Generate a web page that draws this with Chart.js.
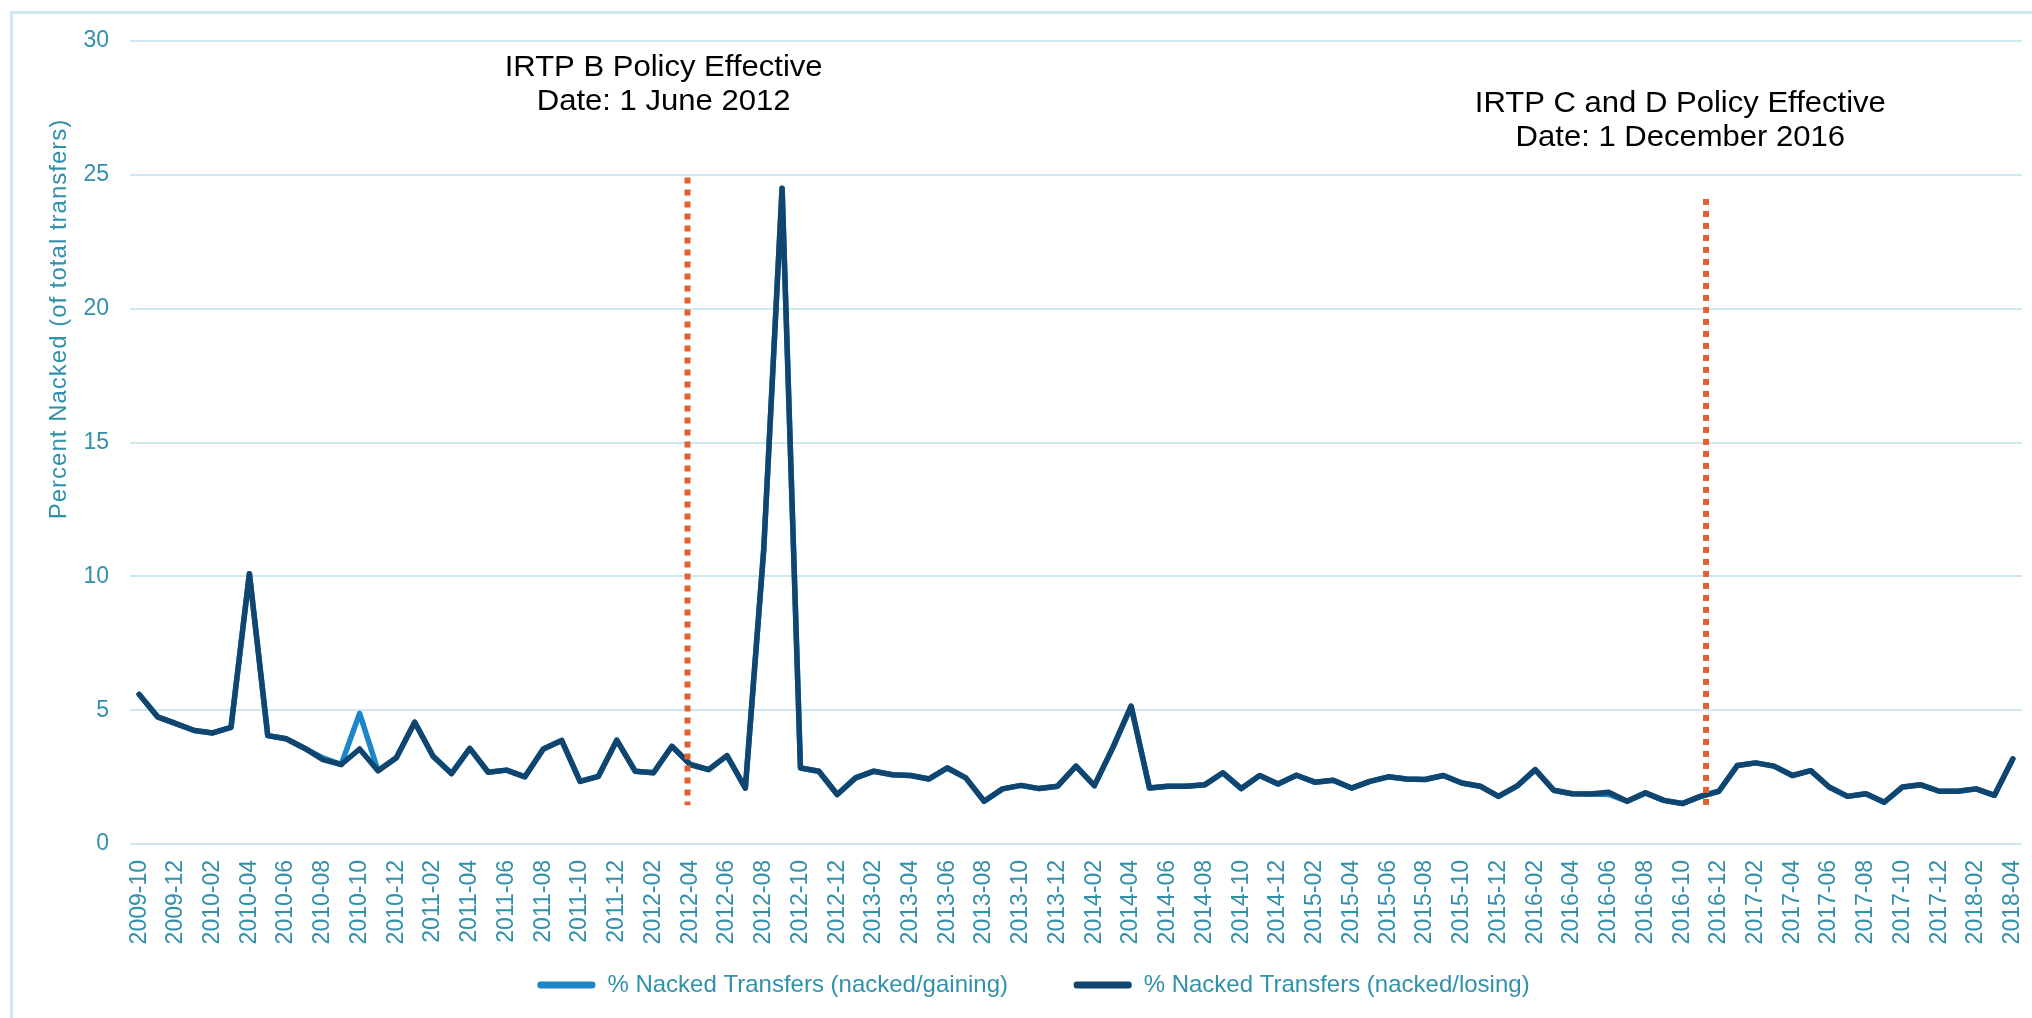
<!DOCTYPE html>
<html>
<head>
<meta charset="utf-8">
<title>Percent Nacked Transfers</title>
<script src="https://cdn.jsdelivr.net/npm/chart.js@4.4.0/dist/chart.umd.min.js"></script>
<style>
  html, body { margin: 0; padding: 0; background: #fff; }
  #wrap { width: 2032px; height: 1018px; }
</style>
</head>
<body>
<div id="wrap"><canvas id="nacked" width="2032" height="1018"></canvas></div>
<script>
// months 2009-10 .. 2018-04
var months = [];
for (var k = 2009 * 12 + 9; k <= 2018 * 12 + 3; k++) {
  var yy = Math.floor(k / 12), mm = k % 12 + 1;
  months.push(yy + '-' + (mm < 10 ? '0' : '') + mm);
}

var nackedLosing = [
  5.59, 4.75, 4.50, 4.24, 4.15, 4.36, 10.1, 4.05, 3.93, 3.58,
  3.15, 2.97, 3.55, 2.74, 3.22, 4.55, 3.28, 2.63, 3.57, 2.68,
  2.76, 2.51, 3.55, 3.87, 2.34, 2.53, 3.88, 2.72, 2.66, 3.65,
  2.97, 2.78, 3.30, 2.09, 11.0, 24.5, 2.84, 2.72, 1.85, 2.47,
  2.72, 2.59, 2.56, 2.43, 2.84, 2.47, 1.60, 2.06, 2.19, 2.07,
  2.16, 2.91, 2.18, 3.59, 5.15, 2.09, 2.16, 2.16, 2.21, 2.66,
  2.07, 2.56, 2.24, 2.57, 2.31, 2.38, 2.09, 2.34, 2.51, 2.43,
  2.41, 2.56, 2.28, 2.16, 1.78, 2.16, 2.78, 2.01, 1.88, 1.87,
  1.93, 1.60, 1.91, 1.63, 1.51, 1.78, 1.97, 2.93, 3.03, 2.91,
  2.56, 2.74, 2.13, 1.78, 1.88, 1.56, 2.13, 2.21, 1.97, 1.97,
  2.06, 1.82, 3.18
];

var nackedGaining = [
  5.59, 4.75, 4.50, 4.24, 4.15, 4.36, 10.1, 4.05, 3.93, 3.58,
  3.22, 2.97, 4.88, 2.74, 3.22, 4.55, 3.28, 2.63, 3.57, 2.68,
  2.76, 2.51, 3.55, 3.87, 2.34, 2.53, 3.88, 2.72, 2.66, 3.65,
  2.97, 2.78, 3.30, 2.09, 11.0, 24.5, 2.84, 2.72, 1.85, 2.47,
  2.72, 2.59, 2.56, 2.43, 2.84, 2.47, 1.60, 2.06, 2.19, 2.07,
  2.16, 2.91, 2.18, 3.59, 5.15, 2.09, 2.16, 2.16, 2.21, 2.66,
  2.07, 2.56, 2.24, 2.57, 2.31, 2.38, 2.09, 2.34, 2.51, 2.43,
  2.41, 2.56, 2.28, 2.16, 1.78, 2.16, 2.78, 2.01, 1.88, 1.87,
  1.85, 1.60, 1.91, 1.63, 1.51, 1.78, 1.97, 2.93, 3.03, 2.91,
  2.56, 2.74, 2.13, 1.78, 1.88, 1.56, 2.13, 2.21, 1.97, 1.97,
  2.06, 1.82, 3.18
];

var seriesNames = ['% Nacked Transfers (nacked/gaining)', '% Nacked Transfers (nacked/losing)'];

// policy markers (x in month index, y in percent)
var policyAt = [29.85, 85.3];
var policyTop = [24.9, 24.1];
var policyBottom = [1.45, 1.3];
var noteAt = [28.55, 83.9];
var noteY = [29.0, 27.64];
var noteText = [
  ['IRTP B Policy Effective', 'Date: 1 June 2012'],
  ['IRTP C and D Policy Effective', 'Date: 1 December 2016']
];

var teal = '#3190aa';
var gridBlue = '#cde8f1';
var fam = "'Liberation Sans', Arial, sans-serif";
Chart.defaults.font.family = fam;

var frame = {
  id: 'frame',
  beforeDraw: function(chart) {
    var ctx = chart.ctx;
    ctx.save();
    ctx.fillStyle = '#fff';
    ctx.fillRect(0, 0, chart.width, chart.height);
    ctx.strokeStyle = gridBlue;
    ctx.lineWidth = 3;
    ctx.strokeRect(11.5, 12.5, chart.width + 40, chart.height + 40);
    ctx.restore();
  }
};

var policyMarks = {
  id: 'policyMarks',
  afterDatasetsDraw: function(chart) {
    var ctx = chart.ctx, x = chart.scales.x, y = chart.scales.y;
    ctx.save();
    ctx.strokeStyle = '#e2612e';
    ctx.lineWidth = 6;
    ctx.setLineDash([6, 6]);
    policyAt.forEach(function(v, i) {
      var px = x.getPixelForValue(v);
      ctx.beginPath();
      ctx.moveTo(px, y.getPixelForValue(policyTop[i]));
      ctx.lineTo(px, y.getPixelForValue(policyBottom[i]));
      ctx.stroke();
    });
    ctx.restore();
  },
  afterDraw: function(chart) {
    var ctx = chart.ctx, x = chart.scales.x, y = chart.scales.y;
    ctx.save();
    ctx.fillStyle = '#000';
    ctx.font = '29px ' + fam;
    ctx.textAlign = 'center';
    ctx.textBaseline = 'middle';
    noteText.forEach(function(lines, i) {
      var px = x.getPixelForValue(noteAt[i]);
      var py = y.getPixelForValue(noteY[i]);
      lines.forEach(function(t, j) {
        ctx.save();
        ctx.translate(px, py + j * 34);
        ctx.scale(1.07, 1);
        ctx.fillText(t, 0, 0);
        ctx.restore();
      });
    });
    // y axis title
    ctx.translate(59, 319);
    ctx.rotate(-Math.PI / 2);
    ctx.font = '24px ' + fam;
    ctx.letterSpacing = '1px';
    ctx.fillStyle = teal;
    ctx.fillText('Percent Nacked (of total transfers)', 0, 0);
    ctx.restore();
  }
};

var ctx = document.getElementById('nacked');
var nackedChart = new Chart(ctx, {
  type: 'line',
  data: {
    labels: months,
    datasets: [{
      label: seriesNames[0],
      data: nackedGaining,
      borderColor: '#1b87c9',
      backgroundColor: '#1b87c9',
      borderWidth: 5.5,
      pointRadius: 0,
      tension: 0,
      borderJoinStyle: 'round',
      borderCapStyle: 'round',
      order: 1
    }, {
      label: seriesNames[1],
      data: nackedLosing,
      borderColor: '#10456f',
      backgroundColor: '#10456f',
      borderWidth: 5.5,
      pointRadius: 0,
      tension: 0,
      borderJoinStyle: 'round',
      borderCapStyle: 'round',
      order: 0
    }]
  },
  options: {
    responsive: false,
    animation: false,
    devicePixelRatio: 1,
    layout: { padding: { top: 41, left: 45, right: 10, bottom: 11 } },
    plugins: {
      tooltip: { enabled: false },
      legend: {
        position: 'bottom',
        reverse: true,
        labels: {
          color: teal,
          font: { size: 24 },
          boxWidth: 58,
          boxHeight: 7,
          padding: 19,
          useBorderRadius: true,
          borderRadius: 3,
          generateLabels: function(chart) {
            var items = Chart.defaults.plugins.legend.labels.generateLabels(chart);
            items.forEach(function(it) {
              it.fillStyle = it.strokeStyle;
              it.lineWidth = 0;
              // wider gap after the first entry, as in the original legend
              if (it.datasetIndex === 0) it.text = it.text + '\u00a0\u00a0\u00a0\u00a0\u00a0\u00a0\u00a0';
            });
            return items;
          }
        }
      }
    },
    scales: {
      x: {
        offset: true,
        grid: { display: false, drawTicks: false },
        border: { display: false },
        ticks: {
          color: teal,
          font: { size: 23 },
          autoSkip: false,
          minRotation: 90,
          maxRotation: 90,
          padding: 16,
          callback: function(v, i) { return i % 2 === 0 ? months[i] : ''; }
        },
        afterFit: function(s) { s.height = 110; s.paddingLeft = 0; s.paddingRight = 0; }
      },
      y: {
        min: 0,
        max: 30,
        grid: { color: gridBlue, lineWidth: 2, drawTicks: false },
        border: { display: false },
        ticks: { stepSize: 5, color: teal, font: { size: 23 }, padding: 21 },
        afterFit: function(s) { s.width = 85; }
      }
    }
  },
  plugins: [frame, policyMarks]
});
</script>
</body>
</html>
